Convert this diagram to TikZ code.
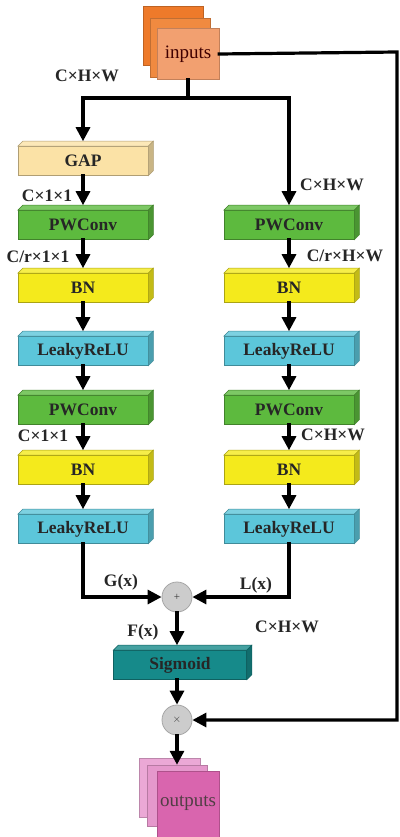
\documentclass[tikz,border=0pt]{standalone}
\usepackage{fontspec}
\setmainfont{Liberation Serif}
\usetikzlibrary{arrows.meta}
\definecolor{gapc}{HTML}{FBE2A6}
\definecolor{pwc}{HTML}{5DBA3E}
\definecolor{bnc}{HTML}{F4EA1C}
\definecolor{lrc}{HTML}{5CC6DA}
\definecolor{sgc}{HTML}{168A8A}
\definecolor{inA}{HTML}{EE7A2A}
\definecolor{inB}{HTML}{F08A40}
\definecolor{inC}{HTML}{F2A070}
\definecolor{outA}{HTML}{EBA8D6}
\definecolor{outB}{HTML}{E598CC}
\definecolor{outC}{HTML}{D965AE}
\tikzset{
  blk/.style={draw=#1!70!black, line width=0.6pt, fill=#1, minimum height=29pt,
    inner sep=0pt, font=\fontsize{17.5}{17.5}\selectfont\bfseries, text=black!85},
  conn/.style={line width=3.2pt, line cap=rect, -{Triangle[length=14pt,width=14pt]}},
  plain/.style={line width=3.2pt, line cap=rect},
  lbl/.style={font=\fontsize{17.5}{17.5}\selectfont\bfseries, text=black!85},
  sq/.style={draw=#1!80!black, line width=0.5pt, fill=#1, inner sep=0pt},
  opc/.style={circle, minimum size=30pt, inner sep=0pt, fill=gray!40, draw=gray!70,
    line width=0.8pt, text=gray!40!black, font=\fontsize{11}{11}\selectfont},
}
% name, x, y, colour, width, text
\newcommand\tdbox[6]{%
  \node[blk=#4, minimum width=#5pt] (#1) at (#2,#3) {#6};
  \filldraw[fill=#4!80!white, draw=#4!70!black, line width=0.5pt]
    (#1.north west) -- ++(5pt,5pt) -- ([shift={(5pt,5pt)}]#1.north east) -- (#1.north east) -- cycle;
  \filldraw[fill=#4!80!black, draw=#4!70!black, line width=0.5pt]
    (#1.north east) -- ++(5pt,5pt) -- ([shift={(5pt,5pt)}]#1.south east) -- (#1.south east) -- cycle;
}
\begin{document}
\begin{tikzpicture}[x=1pt,y=-1pt]
\useasboundingbox[fill=white] (0,0) rectangle (399,837);

% inputs stack
\node[sq=inA, minimum width=60pt, minimum height=59pt] (inback) at (173,36) {};
\node[sq=inB, minimum width=60pt, minimum height=59pt] (inmid) at (180,47.5) {};
\node[sq=inC, minimum width=62pt, minimum height=51pt, text=black!75!red,
  font=\fontsize{19}{19}\selectfont] (in) at (188,54) {inputs};

% left column
\tdbox{gap}{83}{161}{gapc}{130}{GAP}
\tdbox{pwa}{83}{225}{pwc}{130}{PWConv}
\tdbox{bna}{83}{288}{bnc}{130}{BN}
\tdbox{lra}{83}{351}{lrc}{130}{LeakyReLU}
\tdbox{pwb}{83}{410}{pwc}{130}{PWConv}
\tdbox{bnb}{83}{470}{bnc}{130}{BN}
\tdbox{lrb}{83}{529}{lrc}{130}{LeakyReLU}

% right column
\tdbox{pwc1}{289}{225}{pwc}{130}{PWConv}
\tdbox{bnc1}{289}{288}{bnc}{130}{BN}
\tdbox{lrc1}{289}{351}{lrc}{130}{LeakyReLU}
\tdbox{pwc2}{289}{410}{pwc}{130}{PWConv}
\tdbox{bnc2}{289}{470}{bnc}{130}{BN}
\tdbox{lrc2}{289}{529}{lrc}{130}{LeakyReLU}

% combine
\node[opc] (add) at (177,597) {+};
\tdbox{sig}{180}{665}{sgc}{133}{Sigmoid}
\node[opc] (mul) at (177,720) {$\times$};

% outputs stack
\node[sq=outA, minimum width=61pt, minimum height=59pt] (outback) at (169.5,787.5) {};
\node[sq=outB, minimum width=60pt, minimum height=61pt] (outmid) at (177,795.5) {};
\node[sq=outC, minimum width=62pt, minimum height=70pt, anchor=north] (out) at (188,771) {};
\node[font=\fontsize{19}{19}\selectfont, text=black!65!magenta!60!black] (outtxt) at (188,803) {outputs};

% connectors
\coordinate (split) at (188,98);
\coordinate (jl) at (83,98);
\coordinate (jr) at (289,98);
\coordinate (rc) at (397,52);
\draw[plain] (in.south) -- (split);
\draw[plain] (jl) -- (jr);
\draw[conn] (jl) -- ([yshift=5pt]gap.north);
\draw[conn] (jr) -- ([yshift=5pt]pwc1.north);

\draw[conn] (gap.south) -- ([yshift=5pt]pwa.north);
\draw[conn] (pwa.south) -- ([yshift=5pt]bna.north);
\draw[conn] (bna.south) -- ([yshift=5pt]lra.north);
\draw[conn] (lra.south) -- ([yshift=5pt]pwb.north);
\draw[conn] (pwb.south) -- ([yshift=5pt]bnb.north);
\draw[conn] (bnb.south) -- ([yshift=5pt]lrb.north);

\draw[conn] (pwc1.south) -- ([yshift=5pt]bnc1.north);
\draw[conn] (bnc1.south) -- ([yshift=5pt]lrc1.north);
\draw[conn] (lrc1.south) -- ([yshift=5pt]pwc2.north);
\draw[conn] (pwc2.south) -- ([yshift=5pt]bnc2.north);
\draw[conn] (bnc2.south) -- ([yshift=5pt]lrc2.north);

\draw[conn] (lrb.south) |- (add.west);
\draw[conn] (lrc2.south) |- (add.east);
\draw[conn] (add.south) -- ([yshift=5pt]sig.north -| add.south);
\draw[conn] (sig.south -| mul.north) -- (mul.north);
\draw[conn] (mul.south) -- (outmid.north -| mul.south);
\draw[conn] (in.east) -- (rc) |- (mul.east);

% labels
\node[lbl] (t0) at (87,76) {C×H×W};
\node[lbl] (t1) at (47,196) {C×1×1};
\node[lbl] (t2) at (38,257) {C/r×1×1};
\node[lbl] (t3) at (43,436) {C×1×1};
\node[lbl] (t4) at (332,185) {C×H×W};
\node[lbl] (t5) at (345,256) {C/r×H×W};
\node[lbl] (t6) at (333,435) {C×H×W};
\node[lbl] (t7) at (121,582) {G(x)};
\node[lbl] (t8) at (256,585) {L(x)};
\node[lbl] (t9) at (143,632) {F(x)};
\node[lbl] (t10) at (287,627) {C×H×W};
\end{tikzpicture}
\end{document}
